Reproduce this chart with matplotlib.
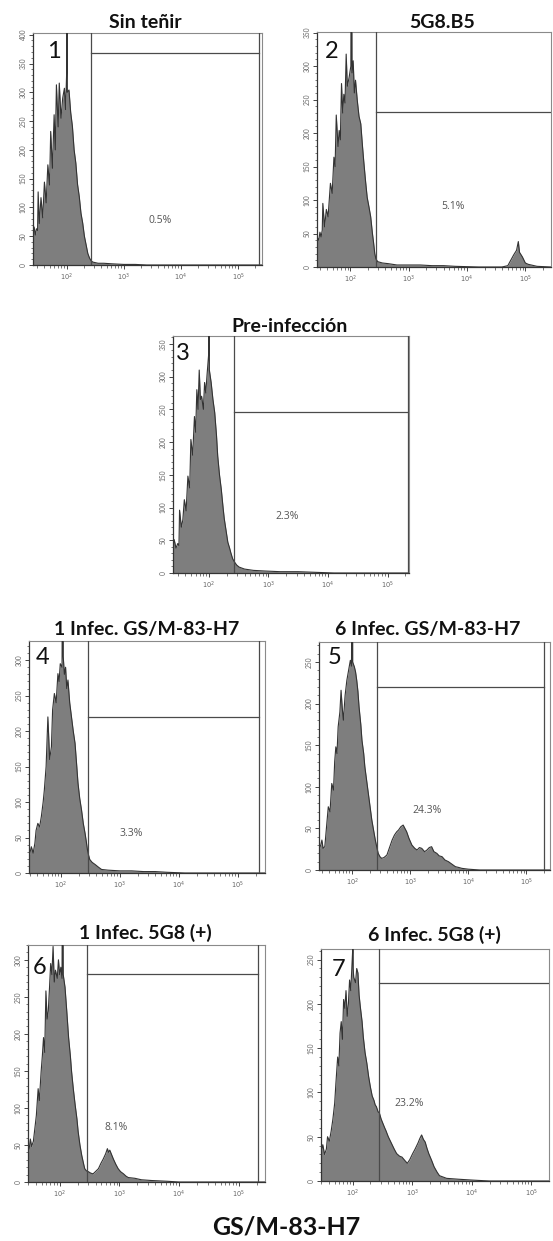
import numpy as np
import matplotlib
matplotlib.use('Agg')
import matplotlib.pyplot as plt
from matplotlib.ticker import LogLocator, MultipleLocator, NullFormatter, FixedLocator

plt.rcParams['font.family'] = ['Lato', 'DejaVu Sans']

W, H = 553, 1241

# histogram outlines: log10(fluorescence), events
p1_logx = [1.41, 1.43, 1.45, 1.47, 1.49, 1.50, 1.52, 1.55, 1.58, 1.61, 1.64, 1.67, 1.70, 1.72, 1.75, 1.78,
           1.80, 1.82, 1.85, 1.87, 1.90, 1.93, 1.96, 1.98, 2.00, 2.005, 2.01, 2.04, 2.07, 2.10, 2.13, 2.16,
           2.19, 2.22, 2.25, 2.28, 2.31, 2.34, 2.37, 2.40, 2.43, 2.46, 2.55, 2.65, 2.80, 3.00, 3.20, 3.40, 5.42]
p1_count = [58, 66, 52, 63, 60, 127, 72, 117, 82, 144, 108, 174, 139, 232, 168, 261,
            200, 313, 240, 316, 255, 290, 307, 270, 336, 600, 300, 304, 265, 241, 200, 177,
            140, 119, 90, 73, 50, 35, 20, 12, 7, 5, 3, 3, 2, 1, 1, 0, 0]

p2_logx = [1.43, 1.46, 1.48, 1.50, 1.52, 1.53, 1.56, 1.59, 1.62, 1.66, 1.69, 1.72, 1.74, 1.76, 1.79, 1.81,
           1.83, 1.85, 1.87, 1.89, 1.91, 1.93, 1.95, 1.98, 2.01, 2.02, 2.03, 2.05, 2.07, 2.09, 2.12, 2.15,
           2.18, 2.21, 2.23, 2.26, 2.29, 2.32, 2.35, 2.38, 2.40, 2.42, 2.44, 2.47, 2.55, 2.65, 2.80, 3.00,
           3.20, 3.40, 3.60, 3.80, 4.20, 4.60, 4.70, 4.75, 4.80, 4.85, 4.88, 4.90, 4.95, 5.00, 5.05, 5.10,
           5.20, 5.44]
p2_count = [45, 40, 52, 45, 55, 95, 60, 86, 75, 125, 110, 164, 150, 227, 180, 204,
            190, 274, 230, 258, 245, 318, 270, 283, 300, 600, 290, 308, 260, 279, 249, 225,
            214, 180, 159, 130, 104, 90, 75, 50, 36, 20, 12, 8, 6, 5, 3, 3,
            3, 2, 2, 1, 0, 0, 2, 10, 18, 25, 38, 22, 15, 6, 4, 3,
            1, 0]

p3_logx = [1.40, 1.42, 1.45, 1.48, 1.50, 1.51, 1.54, 1.565, 1.59, 1.62, 1.65, 1.68, 1.70, 1.73, 1.76, 1.78,
           1.80, 1.82, 1.84, 1.86, 1.88, 1.91, 1.93, 1.95, 1.97, 2.00, 2.005, 2.01, 2.04, 2.07, 2.10, 2.13,
           2.15, 2.18, 2.21, 2.24, 2.26, 2.29, 2.32, 2.35, 2.37, 2.40, 2.43, 2.47, 2.51, 2.60, 2.75, 2.95,
           3.20, 3.50, 3.80, 4.10, 5.36]
p3_count = [41, 51, 38, 45, 42, 96, 70, 81, 112, 95, 148, 130, 204, 180, 239, 215,
            280, 250, 310, 265, 270, 250, 291, 275, 301, 336, 600, 310, 291, 265, 245, 210,
            179, 150, 128, 100, 83, 65, 47, 38, 31, 22, 17, 12, 9, 6, 4, 3,
            2, 2, 1, 0, 0]

p4_logx = [1.46, 1.48, 1.50, 1.53, 1.56, 1.58, 1.61, 1.64, 1.67, 1.70, 1.72, 1.75, 1.78, 1.81, 1.84, 1.86,
           1.89, 1.92, 1.95, 1.97, 1.99, 2.02, 2.035, 2.04, 2.06, 2.08, 2.10, 2.12, 2.15, 2.18, 2.21, 2.24,
           2.27, 2.29, 2.32, 2.35, 2.38, 2.41, 2.43, 2.45, 2.47, 2.49, 2.53, 2.58, 2.64, 2.69, 2.80, 3.00,
           3.20, 3.40, 3.60, 3.80, 4.10, 5.46]
p4_count = [23, 30, 37, 28, 42, 60, 70, 65, 80, 100, 117, 150, 220, 160, 178, 230,
            253, 240, 281, 270, 295, 290, 600, 305, 280, 290, 260, 272, 240, 220, 200, 183,
            150, 127, 105, 89, 70, 56, 45, 33, 25, 19, 15, 12, 8, 5, 4, 3,
            3, 2, 2, 1, 0, 0]

p5_logx = [1.43, 1.46, 1.48, 1.50, 1.53, 1.55, 1.57, 1.59, 1.62, 1.65, 1.68, 1.70, 1.72, 1.74, 1.76, 1.79,
           1.81, 1.83, 1.85, 1.88, 1.91, 1.94, 1.97, 1.99, 2.005, 2.01, 2.04, 2.06, 2.08, 2.10, 2.12, 2.15,
           2.17, 2.20, 2.22, 2.25, 2.28, 2.31, 2.34, 2.37, 2.40, 2.43, 2.45, 2.48, 2.51, 2.55, 2.60, 2.65,
           2.69, 2.73, 2.77, 2.80, 2.84, 2.88, 2.91, 2.94, 2.98, 3.03, 3.08, 3.12, 3.16, 3.20, 3.25, 3.29,
           3.33, 3.37, 3.41, 3.46, 3.50, 3.55, 3.60, 3.66, 3.72, 3.78, 3.84, 3.89, 4.00, 4.20, 5.41]
p5_count = [24, 30, 36, 26, 28, 44, 60, 76, 70, 104, 96, 130, 148, 140, 172, 190,
            216, 195, 180, 210, 228, 240, 252, 245, 600, 250, 244, 238, 228, 215, 196, 175,
            156, 140, 124, 108, 92, 76, 60, 48, 36, 26, 20, 16, 14, 15, 18, 28,
            36, 42, 46, 48, 52, 54, 50, 46, 38, 30, 26, 24, 27, 26, 22, 24,
            27, 28, 22, 20, 17, 16, 12, 10, 7, 4, 3, 2, 1, 0, 0]

p6_logx = [1.47, 1.49, 1.51, 1.53, 1.56, 1.59, 1.61, 1.64, 1.66, 1.69, 1.71, 1.73, 1.75, 1.77, 1.79, 1.81,
           1.83, 1.85, 1.87, 1.89, 1.91, 1.93, 1.96, 1.98, 2.00, 2.02, 2.04, 2.05, 2.06, 2.09, 2.12, 2.15,
           2.18, 2.20, 2.23, 2.26, 2.29, 2.31, 2.34, 2.37, 2.40, 2.42, 2.45, 2.48, 2.52, 2.56, 2.60, 2.65,
           2.69, 2.73, 2.77, 2.80, 2.82, 2.84, 2.87, 2.90, 2.94, 2.98, 3.02, 3.07, 3.11, 3.15, 3.26, 3.37,
           3.54, 3.80, 4.00, 5.44]
p6_count = [39, 45, 58, 48, 55, 76, 90, 126, 110, 149, 170, 195, 175, 258, 220, 231,
            262, 295, 280, 318, 270, 286, 275, 300, 280, 290, 275, 500, 280, 263, 230, 195,
            170, 149, 125, 104, 85, 68, 50, 36, 25, 18, 15, 14, 12, 11, 14, 18,
            25, 31, 38, 45, 40, 43, 37, 31, 24, 18, 14, 11, 8, 6, 5, 3,
            2, 1, 0, 0]

p7_logx = [1.47, 1.50, 1.53, 1.56, 1.58, 1.61, 1.64, 1.67, 1.70, 1.72, 1.75, 1.77, 1.79, 1.81, 1.83, 1.85,
           1.87, 1.89, 1.91, 1.93, 1.95, 1.97, 2.00, 2.005, 2.01, 2.02, 2.05, 2.07, 2.09, 2.11, 2.13, 2.16,
           2.18, 2.21, 2.24, 2.27, 2.30, 2.33, 2.36, 2.38, 2.40, 2.43, 2.45, 2.48, 2.51, 2.54, 2.56, 2.60,
           2.65, 2.70, 2.74, 2.79, 2.83, 2.88, 2.92, 2.96, 3.01, 3.05, 3.10, 3.13, 3.16, 3.19, 3.22, 3.25,
           3.28, 3.33, 3.37, 3.42, 3.46, 3.58, 3.78, 4.02, 4.30, 5.30]
p7_count = [31, 41, 30, 36, 50, 45, 56, 70, 88, 110, 140, 130, 167, 180, 160, 205,
            195, 215, 186, 200, 227, 215, 258, 400, 240, 230, 224, 240, 235, 210, 197, 180,
            163, 145, 133, 118, 106, 96, 91, 86, 84, 78, 77, 70, 65, 60, 57, 50,
            43, 36, 31, 28, 27, 23, 20, 24, 31, 36, 43, 48, 52, 47, 44, 37,
            31, 23, 16, 10, 6, 3, 2, 1, 0, 0]

titles = ['Sin teñir', '5G8.B5', 'Pre-infección', '1 Infec. GS/M-83-H7',
          '6 Infec. GS/M-83-H7', '1 Infec. 5G8 (+)', '6 Infec. 5G8 (+)']
percents = ['0.5%', '5.1%', '2.3%', '3.3%', '24.3%', '8.1%', '23.2%']
y_max = [403, 351, 362, 327, 274, 320, 262]
y_top_tick = [400, 350, 350, 300, 250, 300, 250]
x_lims = [(1.41, 5.42), (1.43, 5.44), (1.40, 5.36), (1.46, 5.46), (1.43, 5.41), (1.47, 5.44), (1.47, 5.30)]
gate_low = [2.42, 2.44, 2.42, 2.46, 2.43, 2.45, 2.45]
gate_high = [5.37, None, 5.34, 5.36, 5.31, 5.32, None]
gate_y = [368, 232, 246, 220, 220, 281, 224]

series = [(p1_logx, p1_count), (p2_logx, p2_count), (p3_logx, p3_count), (p4_logx, p4_count),
          (p5_logx, p5_count), (p6_logx, p6_count), (p7_logx, p7_count)]

# layout in pixels: axes box (left, top, right, bottom), title centre, number centre, percent pos (log x, count)
boxes = [(33, 33, 262, 265), (317, 32, 551, 267), (173, 336, 409, 573), (29, 641, 265, 873),
         (319, 642, 550, 870), (28, 945, 265, 1182), (321, 949, 549, 1181)]
title_xy = [(145, 23), (442, 23), (290, 327), (147, 630), (428, 630), (145, 933), (434, 935)]
num_xy = [(54, 52), (332, 52), (183, 353), (43, 657), (335, 657), (40, 967), (339, 970)]
pct_xy = [(3.63, 78), (3.76, 90), (3.31, 86), (3.20, 56), (3.29, 72), (2.94, 74), (2.95, 88)]

fig = plt.figure(figsize=(W / 100, H / 100), dpi=100)

for i in range(7):
    l, t, r, b = boxes[i]
    ax = fig.add_axes([l / W, 1 - b / H, (r - l) / W, (b - t) / H])
    lx, cnt = series[i]
    xs = 10 ** np.array(lx)
    ys = np.array(cnt, dtype=float)
    ax.fill_between(xs, ys, color='#7e7e7e', lw=0, zorder=2)
    ax.plot(xs, ys, color='#333333', lw=0.8, zorder=3)

    ax.set_xscale('log')
    ax.set_xlim(10 ** x_lims[i][0], 10 ** x_lims[i][1])
    ax.set_ylim(0, y_max[i])

    # gate
    g0 = 10 ** gate_low[i]
    g1 = 10 ** gate_high[i] if gate_high[i] else 10 ** x_lims[i][1]
    ax.axvline(g0, color='#4a4a4a', lw=0.9, zorder=4)
    if gate_high[i]:
        ax.axvline(g1, color='#4a4a4a', lw=0.9, zorder=4)
    ax.plot([g0, g1], [gate_y[i], gate_y[i]], color='#4a4a4a', lw=0.9, zorder=4)

    ax.text(10 ** pct_xy[i][0], pct_xy[i][1], percents[i], ha='center', va='center',
            fontsize=7.5, color='#555555', family=['Open Sans', 'DejaVu Sans'])

    # ticks
    ax.yaxis.set_major_locator(FixedLocator(np.arange(0, y_top_tick[i] + 1, 50)))
    ax.yaxis.set_minor_locator(MultipleLocator(10))
    ax.xaxis.set_major_locator(FixedLocator([1e2, 1e3, 1e4, 1e5]))
    ax.xaxis.set_minor_locator(LogLocator(base=10, subs=np.arange(2, 10), numticks=20))
    ax.xaxis.set_minor_formatter(NullFormatter())
    ax.set_xticklabels(['$10^2$', '$10^3$', '$10^4$', '$10^5$'])
    ax.tick_params(axis='both', which='major', direction='out', length=3, width=0.7,
                   labelsize=4.8, labelcolor='#666666', color='#444444', pad=1.5)
    ax.tick_params(axis='both', which='minor', direction='out', length=1.8, width=0.5, color='#444444')
    for lab in ax.get_yticklabels():
        lab.set_rotation(90)
        lab.set_va('center')
    for side in ['left', 'bottom']:
        ax.spines[side].set_color('#333333')
        ax.spines[side].set_linewidth(0.9)
    for side in ['top', 'right']:
        ax.spines[side].set_color('#8a8a8a')
        ax.spines[side].set_linewidth(0.8)

    fig.text(title_xy[i][0] / W, 1 - title_xy[i][1] / H, titles[i], ha='center', va='center',
             fontsize=14, fontweight='bold', color='#111111')
    fig.text(num_xy[i][0] / W, 1 - num_xy[i][1] / H, str(i + 1), ha='center', va='center',
             fontsize=17, color='#111111')

fig.text(286 / W, 1 - 1227 / H, 'GS/M-83-H7', ha='center', va='center',
         fontsize=18, fontweight='bold', color='#111111')

fig.savefig('out.png', dpi=100)
